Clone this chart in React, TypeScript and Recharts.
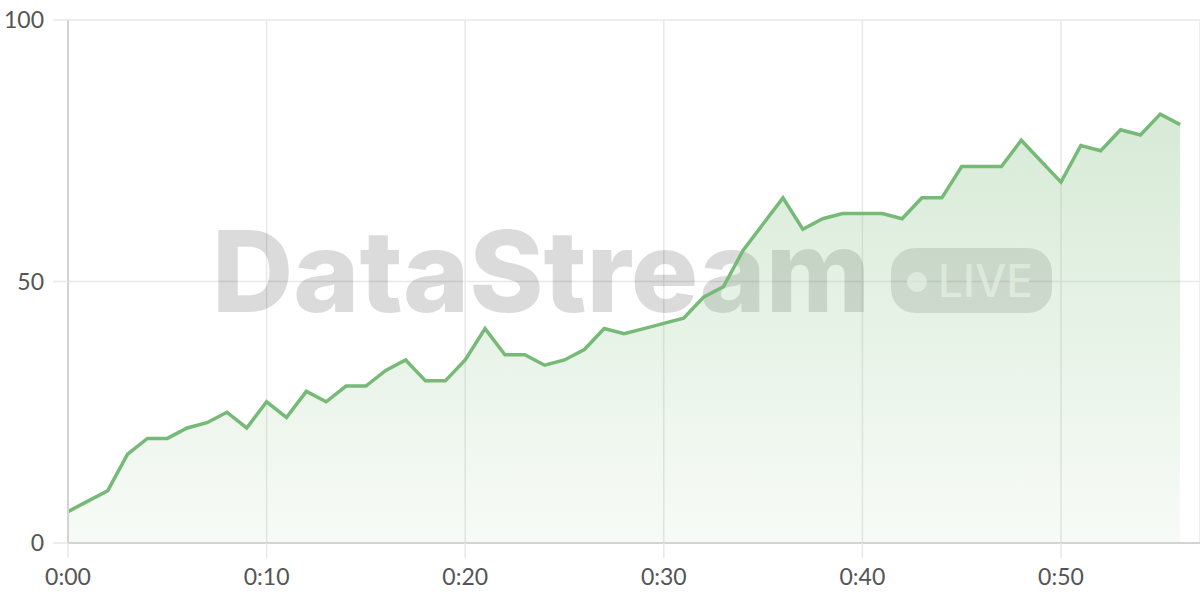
import React from "react";
import {
  AreaChart,
  Area,
  XAxis,
  YAxis,
  CartesianGrid,
  Customized,
} from "recharts";

// one reading per minute, 0:00 .. 0:56
const values = [
  6, 8, 10, 17, 20, 20, 22, 23, 25, 22, 27, 24, 29, 27, 30, 30, 33, 35, 31, 31,
  35, 41, 36, 36, 34, 35, 37, 41, 40, 41, 42, 43, 47, 49, 56, 61, 66, 60, 62,
  63, 63, 63, 62, 66, 66, 72, 72, 72, 77, 73, 69, 76, 75, 79, 78, 82, 80,
];
const xTicks = [0, 10, 20, 30, 40, 50];
const yTicks = [0, 50, 100];
const brand = "DataStream";
const badge = "LIVE";

const data = values.map((v, i) => ({ minute: i, value: v }));

const fmtMinute = (m: number) => `0:${String(m).padStart(2, "0")}`;

function Watermark() {
  return (
    <g style={{ pointerEvents: "none" }}>
      <text
        x={212}
        y={312}
        fontFamily="Inter, 'Open Sans', sans-serif"
        fontWeight={800}
        fontSize={113}
        textLength={658}
        lengthAdjust="spacingAndGlyphs"
        fill="rgba(0,0,0,0.14)"
      >
        {brand}
      </text>
      <rect x={891} y={248} width={161} height={65} rx={24} fill="rgba(0,0,0,0.12)" />
      <circle cx={917} cy={282} r={10} fill="rgba(255,255,255,0.7)" />
      <text
        x={938}
        y={297}
        fontFamily="Inter, 'Open Sans', sans-serif"
        fontWeight={500}
        fontSize={45}
        textLength={95}
        lengthAdjust="spacingAndGlyphs"
        fill="rgba(255,255,255,0.7)"
      >
        {badge}
      </text>
    </g>
  );
}

const tickStyle = { fill: "#555", fontSize: 23, fontFamily: "Lato, 'Noto Sans', sans-serif" };

export default function App() {
  return (
    <div style={{ position: "absolute", left: 0, top: 0, width: 1200, height: 600, background: "#fff" }}>
      <AreaChart
        width={1200}
        height={600}
        data={data}
        margin={{ top: 20, right: 0, bottom: 0, left: 0 }}
      >
        <defs>
          <linearGradient id="fillGreen" x1="0" y1="0" x2="0" y2="1">
            <stop offset="0%" stopColor="#7aba78" stopOpacity={0.3} />
            <stop offset="100%" stopColor="#7aba78" stopOpacity={0.06} />
          </linearGradient>
        </defs>
        <CartesianGrid stroke="#e8e8e8" strokeWidth={1.5} />
        <XAxis
          type="number"
          dataKey="minute"
          domain={[0, 57]}
          ticks={xTicks}
          tickFormatter={fmtMinute}
          height={57}
          tickSize={15}
          tickMargin={11}
          tick={tickStyle}
          tickLine={{ stroke: "#e8e8e8", strokeWidth: 1.5 }}
          axisLine={{ stroke: "#d3d3d3", strokeWidth: 2 }}
        />
        <YAxis
          type="number"
          domain={[0, 100]}
          ticks={yTicks}
          width={68}
          tickSize={15}
          tickMargin={9}
          tick={tickStyle}
          tickLine={{ stroke: "#e8e8e8", strokeWidth: 1.5 }}
          axisLine={{ stroke: "#d3d3d3", strokeWidth: 2 }}
        />
        <Customized component={<Watermark />} />
        <Area
          type="linear"
          dataKey="value"
          stroke="#77b977"
          strokeWidth={3.5}
          fill="url(#fillGreen)"
          fillOpacity={1}
          dot={false}
          activeDot={false}
          isAnimationActive={false}
        />
      </AreaChart>
    </div>
  );
}
